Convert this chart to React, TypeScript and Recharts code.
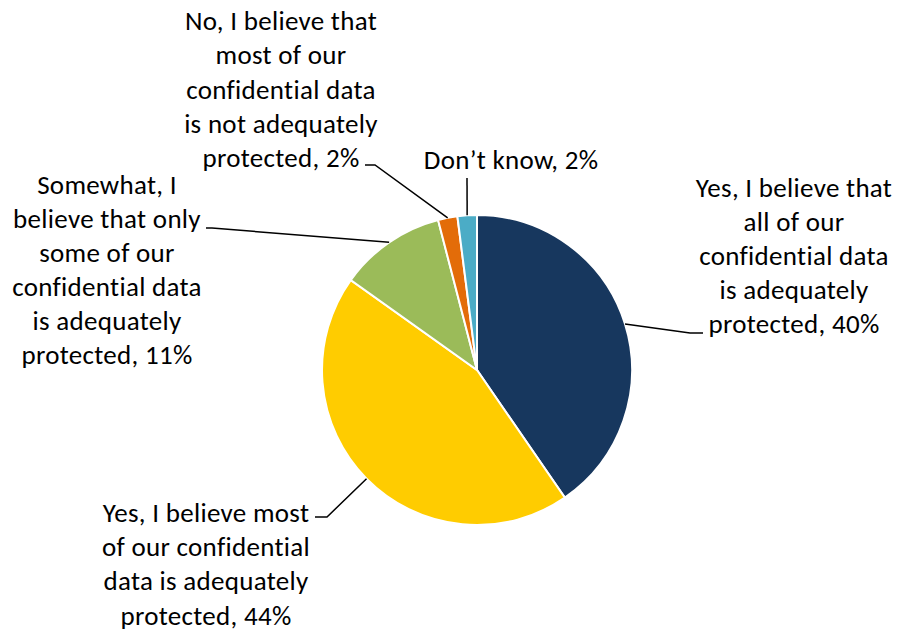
import { PieChart, Pie, Cell } from 'recharts';

if (typeof document !== 'undefined') document.body.style.margin = '0';

const answers = [
  'Yes, I believe that all of our confidential data is adequately protected',
  'Yes, I believe most of our confidential data is adequately protected',
  'Somewhat, I believe that only some of our confidential data is adequately protected',
  'No, I believe that most of our confidential data is not adequately protected',
  'Don\u2019t know',
];
const shares = [40, 44, 11, 2, 2];
const labelLines = [
  ['Yes, I believe that', 'all of our', 'confidential data', 'is adequately', 'protected, 40%'],
  ['Yes, I believe most', 'of our confidential', 'data is adequately', 'protected, 44%'],
  ['Somewhat, I', 'believe that only', 'some of our', 'confidential data', 'is adequately', 'protected, 11%'],
  ['No, I believe that', 'most of our', 'confidential data', 'is not adequately', 'protected, 2%'],
  ['Don\u2019t know, 2%'],
];
const colors = ['#17375E', '#FFCC00', '#9BBB59', '#E36C09', '#4BACC6'];

// label placement: elbow of leader, end of leader, text centre x, first baseline y, line height
const labelLayout = [
  { ex: 690, ey: 333, lx: 703, ly: 333, tx: 794, ty: 197, lh: 34 },
  { ex: 327, ey: 517, lx: 315, ly: 517, tx: 206, ty: 522, lh: 34.2 },
  { ex: 212, ey: 228, lx: 206, ly: 228, tx: 107, ty: 194, lh: 34 },
  { ex: 375, ey: 165, lx: 365, ly: 165, tx: 281, ty: 30, lh: 34.25 },
  { ex: 467, ey: 178, lx: 467, ly: 178, tx: 511, ty: 169, lh: 34 },
];

const data = answers.map((name, i) => ({ name, value: shares[i] }));

const RAD = Math.PI / 180;
const FONT = 'Calibri, Carlito, Lato, sans-serif';

function renderLabel(props: any) {
  const { cx, cy, midAngle, outerRadius, index } = props;
  const lay = labelLayout[index];
  const sx = cx + outerRadius * Math.cos(-midAngle * RAD);
  const sy = cy + outerRadius * Math.sin(-midAngle * RAD);
  const lines = labelLines[index];
  return (
    <g key={`lbl-${index}`}>
      <polyline
        points={`${sx},${sy} ${lay.ex},${lay.ey} ${lay.lx},${lay.ly}`}
        fill="none"
        stroke="#000"
        strokeWidth={1.5}
      />
      <text textAnchor="middle" fontFamily={FONT} fontSize={27} letterSpacing={0.3} fill="#000">
        {lines.map((t, i) => (
          <tspan key={i} x={lay.tx} y={lay.ty + i * lay.lh}>
            {t}
          </tspan>
        ))}
      </text>
    </g>
  );
}

export default function App() {
  return (
    <div style={{ width: 898, height: 632, background: '#fff' }}>
      <PieChart width={898} height={632} margin={{ top: 0, right: 0, bottom: 0, left: 0 }}>
        <Pie
          data={data}
          dataKey="value"
          nameKey="name"
          cx={477}
          cy={370}
          outerRadius={155}
          startAngle={90}
          endAngle={-270}
          stroke="#fff"
          strokeWidth={2}
          label={renderLabel}
          labelLine={false}
          isAnimationActive={false}
        >
          {data.map((d, i) => (
            <Cell key={d.name} fill={colors[i]} />
          ))}
        </Pie>
      </PieChart>
    </div>
  );
}
